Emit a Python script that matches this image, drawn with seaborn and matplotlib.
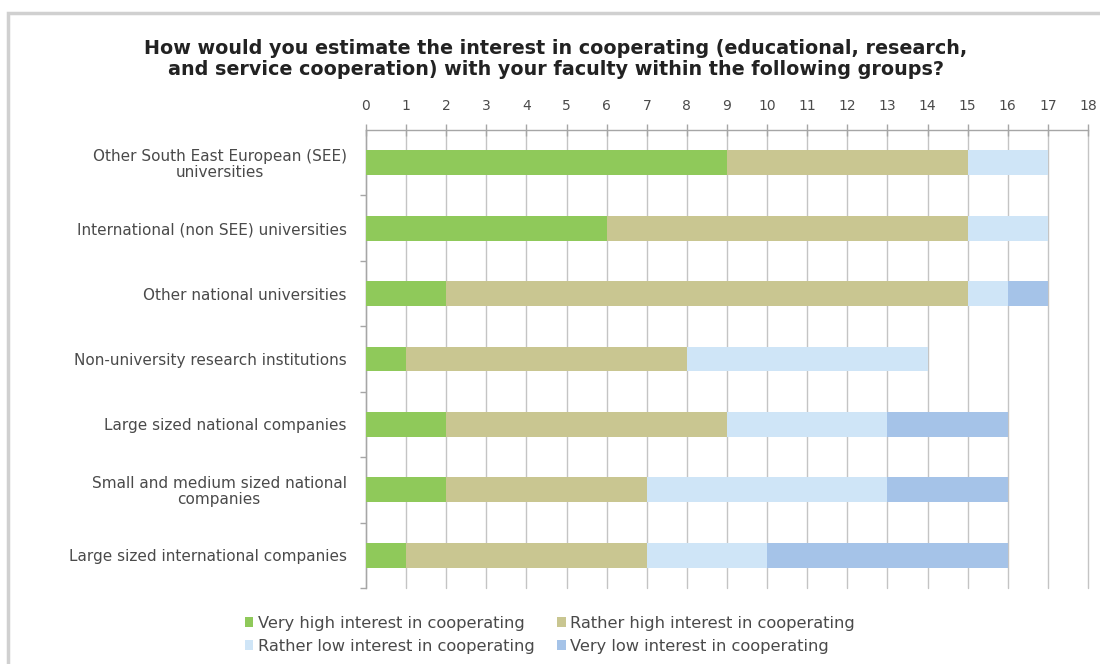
import matplotlib
matplotlib.use("Agg")
import matplotlib.pyplot as plt
from matplotlib.patches import Patch, Rectangle
from matplotlib.ticker import FixedLocator
import numpy as np
import pandas as pd
import seaborn as sns

# Survey answers per partner group (number of faculties)
groups = [
    "Other South East European (SEE)\nuniversities",
    "International (non SEE) universities",
    "Other national universities",
    "Non-university research institutions",
    "Large sized national companies",
    "Small and medium sized national\ncompanies",
    "Large sized international companies",
]
very_high = [9, 6, 2, 1, 2, 2, 1]
rather_high = [6, 9, 13, 7, 7, 5, 6]
rather_low = [2, 2, 1, 6, 4, 6, 3]
very_low = [0, 0, 1, 0, 3, 3, 6]

series_names = [
    "Very high interest in cooperating",
    "Rather high interest in cooperating",
    "Rather low interest in cooperating",
    "Very low interest in cooperating",
]
colors = ["#8fc95a", "#c9c691", "#cfe5f7", "#a5c3e8"]

df = pd.DataFrame({
    "group": groups,
    series_names[0]: very_high,
    series_names[1]: rather_high,
    series_names[2]: rather_low,
    series_names[3]: very_low,
})
cum = df[series_names].cumsum(axis=1)

sns.set_theme(style="white")
plt.rcParams["font.family"] = ["DejaVu Sans"]

fig = plt.figure(figsize=(11, 6.64), dpi=100)
fig.patch.set_facecolor("white")
ax = fig.add_axes([0.3327, 0.1145, 0.9891 - 0.3327, 0.8042 - 0.1145])

# Stacked bars: draw cumulative totals from the outermost segment inward
for name, col in reversed(list(zip(series_names, colors))):
    sns.barplot(x=cum[name], y=df["group"], orient="h", color=col,
                width=0.38, saturation=1, ax=ax, zorder=3, linewidth=0)

ax.set_xlim(0, 18)
ax.set_ylim(len(groups) - 0.5, -0.5)
ax.set_xlabel("")
ax.set_ylabel("")

# Value axis along the top
ax.xaxis.tick_top()
ax.set_xticks(range(0, 19))
ax.tick_params(axis="x", which="major", direction="inout", length=9, width=1,
               color="#a6a6a6", labelsize=10, labelcolor="#4a4a4a", pad=8)
ax.grid(axis="x", color="#c4c4c4", linewidth=1, zorder=0)
ax.grid(axis="y", visible=False)
for gl in ax.get_xgridlines():
    gl.set_clip_on(False)

# Category axis with separator ticks between groups
ax.tick_params(axis="y", which="major", length=0, labelsize=11,
               labelcolor="#4a4a4a", pad=14)
ax.yaxis.set_minor_locator(FixedLocator(np.arange(0.5, len(groups) - 0.5 + 1, 1.0)))
ax.tick_params(axis="y", which="minor", direction="out", length=4,
               color="#a6a6a6", left=True)
for lbl in ax.get_yticklabels():
    lbl.set_horizontalalignment("right")
    lbl.set_multialignment("center")
    lbl.set_linespacing(1.05)

for side in ["right", "bottom"]:
    ax.spines[side].set_visible(False)
for side in ["top", "left"]:
    ax.spines[side].set_color("#a6a6a6")
    ax.spines[side].set_linewidth(1)
ax.set_axisbelow(True)

fig.text(0.505, 0.911,
         "How would you estimate the interest in cooperating (educational, research,\n"
         "and service cooperation) with your faculty within the following groups?",
         ha="center", va="center", fontsize=13.8, fontweight="bold",
         color="#222222", linespacing=1.08)

handles = [Patch(facecolor=c, edgecolor="none") for c in colors]
order = [0, 2, 1, 3]
leg = fig.legend([handles[i] for i in order], [series_names[i] for i in order],
                 ncol=2, loc="center", bbox_to_anchor=(0.5, 0.044),
                 frameon=False, fontsize=11.7, handlelength=0.5, handleheight=0.5,
                 handletextpad=0.3, columnspacing=1.4, labelspacing=0.5)
for t in leg.get_texts():
    t.set_color("#4a4a4a")

# Outer chart frame
fig.patches.append(Rectangle((8 / 1100, -0.05), 1.2, 1 - 13 / 664 + 0.05,
                             transform=fig.transFigure, fill=False,
                             edgecolor="#d0d0d0", linewidth=2.5))

fig.savefig("out.png", dpi=100, facecolor="white")
